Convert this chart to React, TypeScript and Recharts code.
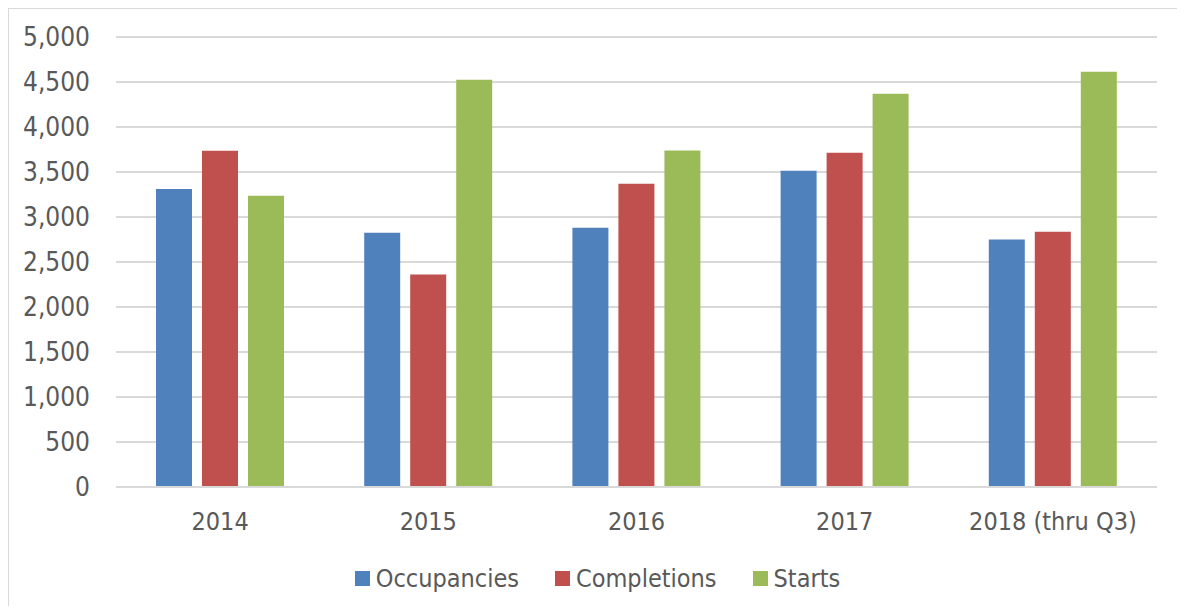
import React from 'react'
import { BarChart, Bar, XAxis, YAxis, CartesianGrid, Legend } from 'recharts'

const years = ['2014', '2015', '2016', '2017', '2018 (thru Q3)']
const occupancies = [3310, 2825, 2880, 3515, 2750]
const completions = [3735, 2360, 3370, 3715, 2835]
const starts = [3235, 4525, 3740, 4370, 4615]
const yTicks = [0, 500, 1000, 1500, 2000, 2500, 3000, 3500, 4000, 4500, 5000]

const series = [
  { key: 'occupancies', name: 'Occupancies', color: '#4F81BD' },
  { key: 'completions', name: 'Completions', color: '#C0504D' },
  { key: 'starts', name: 'Starts', color: '#9BBB59' },
]

const chartData = years.map((year, i) => ({
  year,
  occupancies: occupancies[i],
  completions: completions[i],
  starts: starts[i],
}))

const FONT = '"DejaVu Sans Condensed", "DejaVu Sans", sans-serif'
const TEXT = '#595959'

const LegendContent = () => (
  <div
    style={{
      display: 'flex',
      justifyContent: 'center',
      alignItems: 'center',
      height: 72,
      paddingLeft: 10,
      fontFamily: FONT,
      fontSize: 25,
      color: TEXT,
    }}
  >
    {series.map((s, i) => (
      <div
        key={s.key}
        style={{ display: 'flex', alignItems: 'center', marginLeft: i === 0 ? 0 : 36 }}
      >
        <span style={{ width: 15, height: 15, background: s.color, marginRight: 6, display: 'inline-block' }} />
        <span>{s.name}</span>
      </div>
    ))}
  </div>
)

export default function App() {
  return (
    <div style={{ position: 'relative', margin: -8, width: 1185, height: 614, overflow: 'hidden', background: '#fff' }}>
      <div
        style={{
          position: 'absolute',
          left: 7,
          top: 7,
          width: 1200,
          height: 640,
          border: '2px solid #d9d9d9',
        }}
      />
      <div style={{ position: 'absolute', left: 0, top: 0 }}>
        <BarChart
          width={1185}
          height={614}
          data={chartData}
          margin={{ top: 37, right: 28, left: 0, bottom: 0 }}
          barSize={36}
          barGap={10}
        >
          <CartesianGrid vertical={false} stroke="#d9d9d9" strokeWidth={2} />
          <XAxis
            dataKey="year"
            height={55}
            axisLine={{ stroke: '#d9d9d9', strokeWidth: 2 }}
            tickLine={false}
            tickSize={0}
            tickMargin={25}
            tick={{ fontSize: 25, fill: TEXT, fontFamily: FONT }}
          />
          <YAxis
            width={116}
            domain={[0, 5000]}
            ticks={yTicks}
            interval={0}
            axisLine={false}
            tickLine={false}
            tickSize={0}
            tickMargin={26}
            tickFormatter={(v: number) => v.toLocaleString('en-US')}
            tick={{ fontSize: 26, fill: TEXT, fontFamily: FONT }}
          />
          <Legend
            verticalAlign="bottom"
            height={72}
            content={<LegendContent />}
            wrapperStyle={{ left: 0, width: 1185 }}
          />
          {series.map((s) => (
            <Bar key={s.key} dataKey={s.key} name={s.name} fill={s.color} isAnimationActive={false} />
          ))}
        </BarChart>
      </div>
    </div>
  )
}
